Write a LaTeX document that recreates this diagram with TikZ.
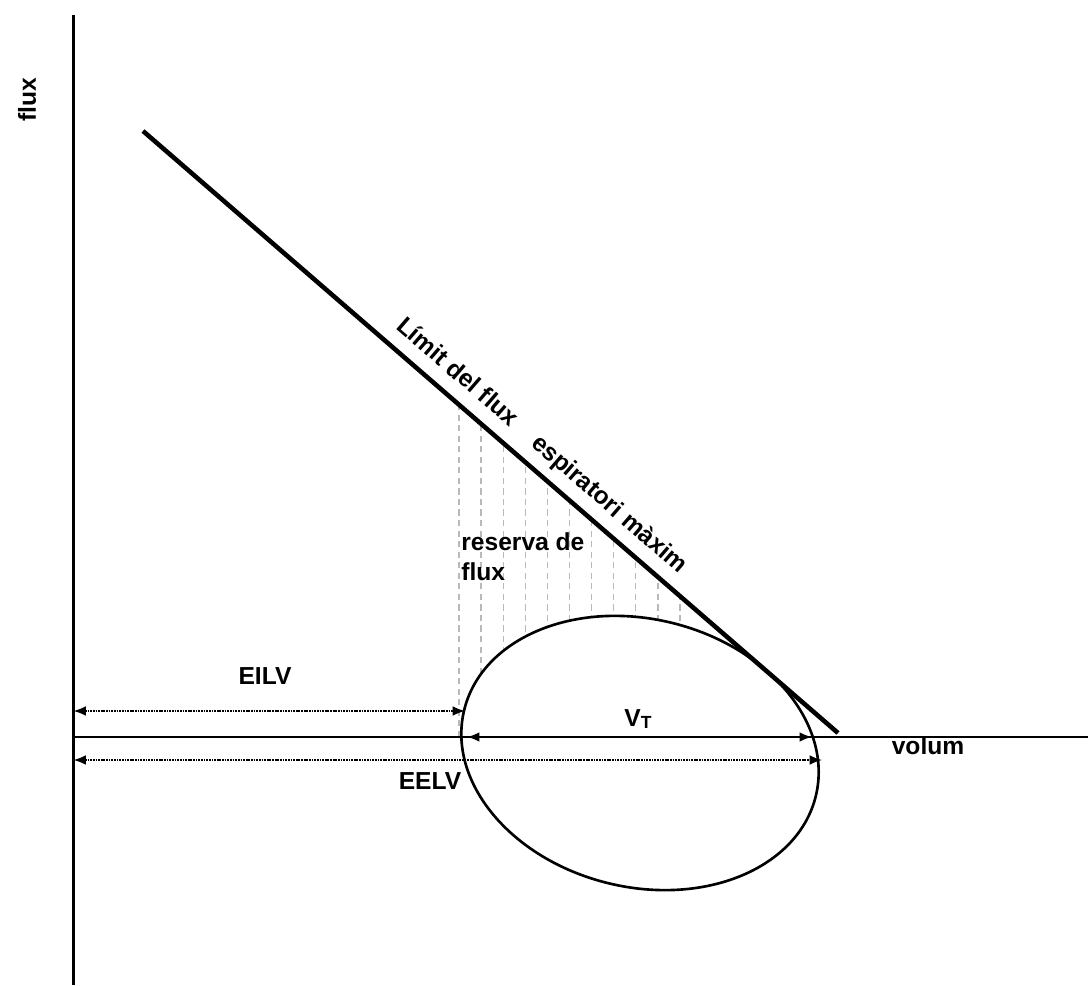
\documentclass[tikz,border=0pt]{standalone}
\usepackage{fontspec}
\setmainfont{Liberation Sans}
\usetikzlibrary{arrows.meta}

\begin{document}
\begin{tikzpicture}[x=0.02cm,y=0.02cm,
  font=\fontsize{14}{17}\selectfont\bfseries,
  axisline/.style={line width=1.4pt},
  limitline/.style={line width=2.6pt},
  reservegrid/.style={gray!55,line width=0.7pt,dash pattern=on 3.5pt off 2.5pt},
  dimtip/.style={{Latex[length=7pt,width=5.5pt]}-{Latex[length=7pt,width=5.5pt]}},
  dotarrow/.style={dimtip,line width=0.9pt,dash pattern=on 1pt off 0.5pt},
  dasharrow/.style={dimtip,line width=1.4pt,dash pattern=on 4pt off 2pt}]
\useasboundingbox (0,0) rectangle (1088,985);
% axes and limit line
\coordinate (O) at (73.5,248);
\coordinate (ytop) at (73.5,970);
\coordinate (ybot) at (73.5,0);
\coordinate (xend) at (1088,248);
\coordinate (lim1) at (143,854);
\coordinate (lim2) at (838,252);
% flow reserve
\begin{scope}
\clip (lim1) -- (lim2) -- (838,248) -- (143,248) -- cycle;
\foreach \i in {0,...,10}
  \draw[reservegrid] ({459+22.1*\i},248) -- ({459+22.1*\i},900);
\end{scope}
% loop
\draw[line width=1.5pt,fill=white] (640,232) ellipse[x radius=181,y radius=134,rotate=-13.8];
\draw[axisline] (ybot) -- (ytop);
\draw[axisline] (O) -- (xend);
\draw[limitline] (lim1) -- (lim2)
  node[pos=0.552,sloped,above=5pt,inner sep=0] {Límit del flux\hspace{1.1em}espiratori màxim};
% volumes
\coordinate (eilvL) at (73.5,274);
\coordinate (eilvR) at (465,274);
\coordinate (eelvL) at (73.5,225);
\coordinate (eelvR) at (822,225);
\coordinate (vtL) at (467,248);
\coordinate (vtR) at (812,248);
\draw[dotarrow] (eilvL) -- (eilvR);
\draw[dotarrow] (eelvL) -- (eelvR);
\draw[dasharrow] (vtL) -- (vtR);
\node (eilv) at (265,309) {EILV};
\node (eelv) at (430,204) {EELV};
\node (vt) at (638,266) {V\raisebox{-1pt}{\fontsize{10}{10}\selectfont T}};
\node (volum) at (928,239) {volum};
\node[rotate=90] (flux) at (27,885) {flux};
\node[anchor=north west,align=left,inner sep=0] (reserva) at (461,453) {reserva de\\flux};
\end{tikzpicture}
\end{document}
